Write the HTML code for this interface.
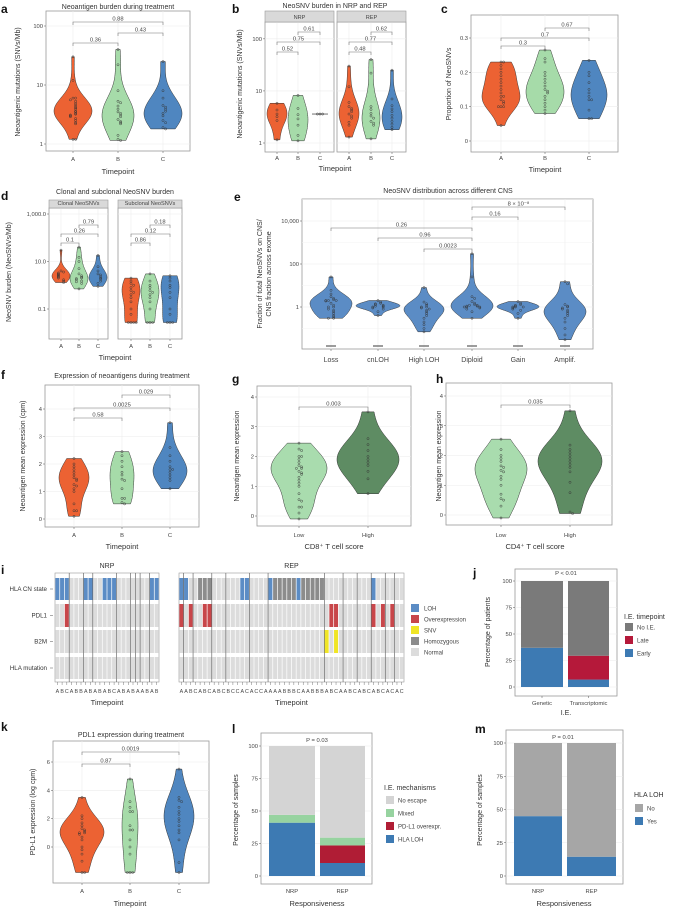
<!DOCTYPE html>
<html><head><meta charset="utf-8"><style>
html,body{margin:0;padding:0;background:#fff}
svg{display:block;font-family:"Liberation Sans",sans-serif}
</style></head><body>
<svg id="fig" width="673" height="908" viewBox="0 0 673 908" xmlns="http://www.w3.org/2000/svg"></svg>
<script>
// ---------------- DATA ----------------
const timepoints = ["A","B","C"];
const aA=[1.2,1.2,2.2,2.3,2.5,2.7,2.9,3,3.1,3.2,3.3,3.5,3.6,3.9,4.1,4.3,4.6,4.9,5.3,5.6,6,6,12,30];
const aB=[1.15,1.2,1.4,2.2,2.3,2.4,2.6,2.9,3.1,3.3,3.5,3.9,4.4,5,5.3,8,22,40];
const aC=[1.8,1.9,2.3,2.5,3,3.3,3.6,3.9,4.2,4.5,6,8,25];
const bNrpA=[1.15,2.7,3.2,3.6,4.3,5.8];
const bNrpB=[1.1,1.4,2.2,2.9,3.5,4.6,8.2];
const bNrpC=[3.6,3.6,3.6];
const bRepA=[1.3,2.2,2.5,3,3.3,3.6,4,4.3,4.6,5,6,12,30];
const bRepB=[1.2,2.2,2.4,2.6,3,3.3,3.7,4.4,5,22,40];
const bRepC=[1.8,2,2.3,2.6,3,3.4,4,4.5,5.2,7,25];
const cA=[0.045,0.1,0.1,0.1,0.11,0.115,0.12,0.13,0.13,0.14,0.15,0.16,0.17,0.18,0.19,0.2,0.21,0.22,0.23,0.23];
const cB=[0.08,0.09,0.1,0.11,0.12,0.13,0.14,0.145,0.15,0.16,0.17,0.18,0.19,0.2,0.23,0.24,0.265];
const cC=[0.065,0.065,0.09,0.12,0.12,0.13,0.14,0.15,0.17,0.19,0.2,0.235];
const dClA=[1.3,1.5,1.7,2,2.2,2.4,2.6,2.8,3,3.3,3.6,4,30];
const dClB=[0.7,1.2,1.4,1.5,1.7,1.9,2,2.2,2.5,3,5,10,15,40];
const dClC=[0.9,1.2,1.5,1.8,2,2.3,2.7,3,4,6,18];
const dSubA=[0.027,0.027,0.027,0.027,0.06,0.1,0.2,0.3,0.4,0.5,0.6,0.8,1,1.2,1.5,2];
const dSubB=[0.027,0.027,0.027,0.1,0.2,0.3,0.4,0.5,0.6,0.8,1,1.5,3];
const dSubC=[0.027,0.027,0.027,0.06,0.1,0.3,0.5,0.8,1,1.5,2,2.5];
const eCats=["Loss","cnLOH","High LOH","Diploid","Gain","Amplif."];
const eLoss=[0.3,0.3,0.35,0.4,0.5,0.6,0.7,0.8,1,1,1.2,1.5,1.9,2,2,2,2.2,2.5,3,4,6,25];
const eCnloh=[0.4,0.6,0.8,0.9,1,1,1.1,1.1,1.2,1.3,1.4,1.5,1.7,2];
const eHigh=[0.07,0.1,0.15,0.2,0.3,0.4,0.5,0.6,0.7,0.8,0.9,1,1,1.2,1.4,1.7,8];
const eDip=[0.3,0.6,0.8,0.9,1,1,1,1.1,1.1,1.2,1.2,1.3,1.5,1.8,2.5,3,25,300];
const eGain=[0.3,0.5,0.7,0.8,0.9,1,1,1,1.1,1.2,1.3,1.5,1.8];
const eAmp=[0.03,0.05,0.1,0.2,0.3,0.4,0.5,0.6,0.7,0.8,0.9,1,1.1,1.3,12,15];
const fA=[0.1,0.3,0.3,0.55,1,1.1,1.2,1.25,1.4,1.45,1.5,1.6,1.7,1.8,1.9,2,2.2];
const fB=[0.55,0.6,0.75,0.75,1.1,1.4,1.45,1.6,1.7,1.9,2.1,2.3,2.45];
const fC=[1.1,1.4,1.5,1.6,1.7,1.8,1.8,1.9,2.1,2.3,2.6,3.5];
const gLow=[-0.1,0.1,0.3,0.3,0.5,0.55,0.75,1,1.1,1.2,1.3,1.4,1.45,1.5,1.6,1.6,1.65,1.7,1.8,1.9,2,2,2.2,2.25,2.45];
const gHigh=[0.75,1.25,1.5,1.7,1.8,1.9,2,2.2,2.4,2.6,3.5];
const hLow=[-0.1,0.3,0.5,0.55,0.7,1,1.2,1.3,1.45,1.5,1.6,1.65,1.8,1.9,2,2.2,2.55];
const hHigh=[0.05,0.1,0.75,1.1,1.45,1.6,1.7,1.8,1.9,2,2.1,2.2,2.35,3.5];
const kA=[-1.8,-1.8,-1,-0.5,-0.2,0,0.5,0.7,0.9,1,1,1.1,1.2,1.3,1.5,1.7,2,2.2,3.5];
const kB=[-1.8,-1.8,-1.8,-0.5,0,0.5,1.2,1.2,1.5,2.5,2.5,2.8,3.2,4.8];
const kC=[-1.8,-1.1,0.5,1,1.2,1.5,1.8,2,2.3,2.5,2.8,3.2,3.3,3.5,5.5];
// heatmap i
const nrpLabels="ABCABBABABABCABABAABAB".split("");
const nrpLOH=[0,1,2,6,7,10,11,12,20,21];
const nrpPDL1=[2];
const nrpSep=[3,6,8,13,16,17,18,20];
const repLabels="AABCABCABCBCCACACCAAAABBBCAABBBABCAABCABCABCACAC".split("");
const repLOH=[0,1,13,14,19,25,41];
const repHomo=[4,5,6,20,21,22,23,24,26,27,28,29,30];
const repPDL1=[0,2,5,6,32,33,41,43,45];
const repSNV=[31,33];
const repSep=[1,3,7,10,15,19,31,35,38,41,44,46];
// stacked bars
const jCats=["Genetic","Transcriptomic"];
const jEarly=[37,7];
const jLate=[0,22.5];
const lCats=["NRP","REP"];
const lHlaLoh=[41,10];
const lPdl1=[0,13.5];
const lMixed=[6,6];
const mCats=["NRP","REP"];
const mYes=[45,14.5];

// ---------------- HELPERS ----------------
const NS="http://www.w3.org/2000/svg";
const svg=document.getElementById("fig");
function mk(tag,attrs,name,parent){
  const e=document.createElementNS(NS,tag);
  for(const k in attrs) e.setAttribute(k,attrs[k]);
  
  
  (parent||svg).appendChild(e);
  return e;
}
function txt(x,y,s,size,anchor,name,o){
  o=o||{};
  const a={x:x,y:y,"font-size":size,"text-anchor":anchor||"middle",fill:o.fill||"#333"};
  if(o.weight)a["font-weight"]=o.weight;
  if(o.rot!==undefined)a.transform="rotate("+o.rot+" "+x+" "+y+")";
  const t=mk("text",a,name);
  t.textContent=s;
  return t;
}
function lin(d0,d1,r0,r1){return v=>r0+(v-d0)/(d1-d0)*(r1-r0);}
function lg(d0,d1,r0,r1){const l0=Math.log10(d0),l1=Math.log10(d1);return v=>r0+(Math.log10(v)-l0)/(l1-l0)*(r1-r0);}
function frame(x0,y0,x1,y1,name){
  mk("rect",{x:x0,y:y0,width:x1-x0,height:y1-y0,fill:"#fff",stroke:"#9a9a9a","stroke-width":0.8},name);
}
function yAxis(x0,x1,ticks,labels,sc,name){
  ticks.forEach((v,i)=>{
    const y=sc(v);
    mk("line",{x1:x0,x2:x1,y1:y,y2:y,stroke:"#ececec","stroke-width":0.6},name+"-grid");
    mk("line",{x1:x0-2,x2:x0,y1:y,y2:y,stroke:"#555","stroke-width":0.5},name+"-tick");
    txt(x0-3,y+2,labels[i],5.8,"end",name+"-label",{fill:"#444"});
  });
}
function xAxis(xs,labels,y0,y1,ly,name,size){
  xs.forEach((x,i)=>{
    mk("line",{x1:x,x2:x,y1:y0,y2:y1,stroke:"#ececec","stroke-width":0.6},name+"-grid");
    mk("line",{x1:x,x2:x,y1:y1,y2:y1+2,stroke:"#555","stroke-width":0.5},name+"-tick");
    txt(x,ly,labels[i],size||5.8,"middle",name+"-label",{fill:"#444"});
  });
}
function violin(x,vals,sc,maxW,color,name){
  const ys=vals.map(sc);
  const lo=Math.min(...ys),hi=Math.max(...ys);
  const g=mk("g",{},name);
  if(hi-lo<0.5){
    mk("line",{x1:x-maxW,x2:x+maxW,y1:lo,y2:lo,stroke:"#333","stroke-width":0.7},name+"-line",g);
  } else {
    const n=ys.length,m=ys.reduce((a,b)=>a+b)/n;
    const sd=Math.sqrt(ys.reduce((a,b)=>a+(b-m)*(b-m),0)/(n-1));
    const bw=Math.max(2.5,1.06*sd*Math.pow(n,-0.2)*1.05);
    const N=70,dens=[];
    for(let i=0;i<=N;i++){const y=hi+(lo-hi)*i/N;let d=0;ys.forEach(v=>{d+=Math.exp(-0.5*((y-v)/bw)**2);});dens.push([y,d]);}
    const mx=Math.max(...dens.map(d=>d[1]));
    let p="";
    dens.forEach((d,i)=>{p+=(i?"L":"M")+(x+d[1]/mx*maxW).toFixed(2)+","+d[0].toFixed(2);});
    for(let i=N;i>=0;i--){p+="L"+(x-dens[i][1]/mx*maxW).toFixed(2)+","+dens[i][0].toFixed(2);}
    mk("path",{d:p+"Z",fill:color,stroke:"#333","stroke-width":0.5},name+"-body",g);
  }
  const placed=[];
  ys.slice().sort((a,b)=>a-b).forEach(y=>{
    const k=placed.filter(q=>Math.abs(q-y)<2.2).length;placed.push(y);
    const off=k===0?0:((k%2)?1:-1)*Math.ceil(k/2)*2.6;
    mk("circle",{cx:x+off,cy:y,r:1.1,fill:"none",stroke:"#333","stroke-width":0.45},name+"-point",g);
  });
}
function bracket(x1,x2,y,label,name){
  mk("path",{d:`M${x1},${y+3}V${y}H${x2}V${y+3}`,fill:"none",stroke:"#777","stroke-width":0.6},name);
  txt((x1+x2)/2,y-1.5,label,5.8,"middle",name+"-label",{fill:"#444"});
}
function strip(x0,x1,y0,y1,label,name){
  mk("rect",{x:x0,y:y0,width:x1-x0,height:y1-y0,fill:"#d9d9d9",stroke:"#9a9a9a","stroke-width":0.6},name);
  txt((x0+x1)/2,y1-3,label,5.6,"middle",name+"-label",{fill:"#444"});
}
function letter(x,y,s){txt(x,y,s,12,"start","panel-label-"+s,{weight:"bold",fill:"#111"});}
const OR="#ec6233",GR="#a6dba9",BL="#4f86c0";

// ---------------- PANEL A ----------------
letter(1,13,"a");
txt(118,9,"Neoantigen burden during treatment",7,"middle","panel-a-title");
frame(46,11,190,151,"panel-a-frame");
{const sc=lg(1,100,144,26);
yAxis(46,190,[1,10,100],["1","10","100"],sc,"a-y");
xAxis([73,118,163],timepoints,11,151,161,"a-x");
[aA,aB,aC].forEach((v,i)=>violin([73,118,163][i],v,sc,[19,16,19][i],[OR,GR,BL][i],"a-violin-"+timepoints[i]));
bracket(73,118,43,"0.36","a-bracket-ab");bracket(118,163,33,"0.43","a-bracket-bc");bracket(73,163,22,"0.88","a-bracket-ac");}
txt(118,174,"Timepoint",7.5,"middle","a-x-title");
txt(20,82,"Neoantigenic mutations (SNVs/Mb)",7,"middle","a-y-title",{rot:-90});

// ---------------- PANEL B ----------------
letter(232,13,"b");
txt(335,8,"NeoSNV burden in NRP and REP",7,"middle","panel-b-title");
{const sc=lg(1,300,143,14);
frame(265,22,334,152,"b-nrp-frame");frame(337,22,406,152,"b-rep-frame");
yAxis(265,334,[1,10,100],["1","10","100"],sc,"b-y");
[1,10,100].forEach(v=>mk("line",{x1:337,x2:406,y1:sc(v),y2:sc(v),stroke:"#ececec","stroke-width":0.6},"b-rep-grid-line"));
xAxis([277,298,320],timepoints,22,152,160,"b-nrp-x");
xAxis([349,371,392],timepoints,22,152,160,"b-rep-x");
strip(265,334,11,22,"NRP","b-strip-nrp");strip(337,406,11,22,"REP","b-strip-rep");
[bNrpA,bNrpB,bNrpC].forEach((v,i)=>violin([277,298,320][i],v,sc,[10,10,8][i],[OR,GR,BL][i],"b-nrp-violin-"+timepoints[i]));
[bRepA,bRepB,bRepC].forEach((v,i)=>violin([349,371,392][i],v,sc,[10,9,10][i],[OR,GR,BL][i],"b-rep-violin-"+timepoints[i]));
bracket(277,298,52,"0.52","b-nrp-ab");bracket(277,320,42,"0.75","b-nrp-ac");bracket(298,320,32,"0.61","b-nrp-bc");
bracket(349,371,52,"0.48","b-rep-ab");bracket(349,392,42,"0.77","b-rep-ac");bracket(371,392,32,"0.62","b-rep-bc");}
txt(335,171,"Timepoint",7.5,"middle","b-x-title");
txt(242,84,"Neoantigenic mutations (SNVs/Mb)",7,"middle","b-y-title",{rot:-90});

// ---------------- PANEL C ----------------
letter(441,13,"c");
frame(471,15,618,152,"panel-c-frame");
{const sc=lin(0,0.3,141,38);
yAxis(471,618,[0,0.1,0.2,0.3],["0","0.1","0.2","0.3"],sc,"c-y");
xAxis([501,545,589],timepoints,15,152,160,"c-x");
[cA,cB,cC].forEach((v,i)=>violin([501,545,589][i],v,sc,[19,19,18][i],[OR,GR,BL][i],"c-violin-"+timepoints[i]));
bracket(501,545,46,"0.3","c-bracket-ab");bracket(501,589,38,"0.7","c-bracket-ac");bracket(545,589,28,"0.67","c-bracket-bc");}
txt(545,172,"Timepoint",7.5,"middle","c-x-title");
txt(451,84,"Proportion of NeoSNVs",7,"middle","c-y-title",{rot:-90});

// ---------------- PANEL D ----------------
letter(1,200,"d");
txt(115,194,"Clonal and subclonal NeoSNV burden",7,"middle","panel-d-title");
{const sc=lg(0.1,1000,309,214);
frame(49,208,108,339,"d-clonal-frame");frame(118,208,182,339,"d-subclonal-frame");
yAxis(49,108,[0.1,10,1000],["0.1","10.0","1,000.0"],sc,"d-y");
[0.1,10,1000].forEach(v=>mk("line",{x1:118,x2:182,y1:sc(v),y2:sc(v),stroke:"#ececec","stroke-width":0.6},"d-sub-grid"));
xAxis([61,79,98],timepoints,208,339,348,"d-cl-x");
xAxis([131,150,170],timepoints,208,339,348,"d-sub-x");
strip(49,108,200,208,"Clonal NeoSNVs","d-strip-clonal");strip(118,182,200,208,"Subclonal NeoSNVs","d-strip-subclonal");
[dClA,dClB,dClC].forEach((v,i)=>violin([61,79,98][i],v,sc,9,[OR,GR,BL][i],"d-clonal-violin-"+timepoints[i]));
[dSubA,dSubB,dSubC].forEach((v,i)=>violin([131,150,170][i],v,sc,9,[OR,GR,BL][i],"d-sub-violin-"+timepoints[i]));
bracket(61,79,243,"0.1","d-cl-ab");bracket(61,98,234,"0.26","d-cl-ac");bracket(79,98,225,"0.79","d-cl-bc");
bracket(131,150,243,"0.86","d-sub-ab");bracket(131,170,234,"0.12","d-sub-ac");bracket(150,170,225,"0.18","d-sub-bc");}
txt(115,360,"Timepoint",7.5,"middle","d-x-title");
txt(11,272,"NeoSNV burden (NeoSNVs/Mb)",7,"middle","d-y-title",{rot:-90});

// ---------------- PANEL E ----------------
letter(234,201,"e");
txt(448,193,"NeoSNV distribution across different CNS",7,"middle","panel-e-title");
frame(302,199,593,349,"panel-e-frame");
{const sc=lg(1,10000,307,221);const ex=[331,378,424,472,518,565];
yAxis(302,593,[1,100,10000],["1","100","10,000"],sc,"e-y");
[0.1,10,1000,100000].forEach(v=>mk("line",{x1:302,x2:593,y1:sc(v),y2:sc(v),stroke:"#f3f3f3","stroke-width":0.5},"e-minor-grid"));
xAxis(ex,eCats,199,349,362,"e-x",7);
[eLoss,eCnloh,eHigh,eDip,eGain,eAmp].forEach((v,i)=>{
  violin(ex[i],v,sc,[21,22,20,21,21,21][i],"#5b8cc5","e-violin-"+i);
  [-4,-2,0,2,4].forEach(o=>mk("circle",{cx:ex[i]+o,cy:346,r:0.9,fill:"#555",stroke:"none"},"e-zero-point"));
});
bracket(472,565,207,"8 × 10⁻⁸","e-bracket-dip-amp");bracket(472,518,217,"0.16","e-bracket-dip-gain");
bracket(331,472,228,"0.26","e-bracket-loss-dip");bracket(378,472,238,"0.96","e-bracket-cnloh-dip");bracket(424,472,249,"0.0023","e-bracket-high-dip");}
txt(262,274,"Fraction of total NeoSNVs on CNS/",7,"middle","e-y-title-1",{rot:-90});
txt(271,274,"CNS fraction across exome",7,"middle","e-y-title-2",{rot:-90});

// ---------------- PANEL F ----------------
letter(1,379,"f");
txt(122,378,"Expression of neoantigens during treatment",7,"middle","panel-f-title");
frame(45,385,199,527,"panel-f-frame");
{const sc=lin(0,4,519,409);
yAxis(45,199,[0,1,2,3,4],["0","1","2","3","4"],sc,"f-y");
xAxis([74,122,170],timepoints,385,527,537,"f-x");
[fA,fB,fC].forEach((v,i)=>violin([74,122,170][i],v,sc,[15,12,17][i],[OR,GR,BL][i],"f-violin-"+timepoints[i]));
bracket(74,122,418,"0.58","f-bracket-ab");bracket(74,170,408,"0.0025","f-bracket-ac");bracket(122,170,395,"0.029","f-bracket-bc");}
txt(122,549,"Timepoint",7.5,"middle","f-x-title");
txt(25,456,"Neoantigen mean expression (cpm)",7,"middle","f-y-title",{rot:-90});

// ---------------- PANEL G ----------------
letter(232,383,"g");
frame(257,386,411,526,"panel-g-frame");
{const sc=lin(0,4,516,397);
yAxis(257,411,[0,1,2,3,4],["0","1","2","3","4"],sc,"g-y");
xAxis([299,368],["Low","High"],386,526,537,"g-x");
violin(299,gLow,sc,28,"#a9dcae","g-violin-low");violin(368,gHigh,sc,31,"#5e8c63","g-violin-high");
bracket(299,368,407,"0.003","g-bracket");}
txt(334,549,"CD8⁺ T cell score",7.5,"middle","g-x-title");
txt(239,456,"Neoantigen mean expression",7,"middle","g-y-title",{rot:-90});

// ---------------- PANEL H ----------------
letter(436,383,"h");
frame(446,383,612,525,"panel-h-frame");
{const sc=lin(0,4,515,396);
yAxis(446,612,[0,1,2,3,4],["0","1","2","3","4"],sc,"h-y");
xAxis([501,570],["Low","High"],383,525,537,"h-x");
violin(501,hLow,sc,26,"#a9dcae","h-violin-low");violin(570,hHigh,sc,32,"#5e8c63","h-violin-high");
bracket(501,570,405,"0.035","h-bracket");}
txt(535,549,"CD4⁺ T cell score",7.5,"middle","h-x-title");
txt(441,456,"Neoantigen mean expression",7,"middle","h-y-title",{rot:-90});

// ---------------- PANEL I ----------------
letter(1,574,"i");
const rowsY=[[578,600],[604,627],[630,653],[657,679]];
const rowNames=["HLA CN state","PDL1","B2M","HLA mutation"];
rowNames.forEach((r,i)=>{const y=(rowsY[i][0]+rowsY[i][1])/2;txt(47,y+2,r,6.2,"end","i-row-label");mk("line",{x1:50,x2:53,y1:y,y2:y,stroke:"#555","stroke-width":0.5},"i-row-tick");});
function heat(x0,x1,labels,loh,homo,pdl1,snv,sep,title,nm){
  const n=labels.length,w=(x1-x0)/n;
  mk("rect",{x:x0,y:573,width:x1-x0,height:109,fill:"#fff",stroke:"#9a9a9a","stroke-width":0.6},nm+"-frame");
  txt((x0+x1)/2,568,title,7,"middle",nm+"-title");
  labels.forEach((l,c)=>{
    const x=x0+c*w;
    rowsY.forEach((r,ri)=>{
      let col="#dcdcdc";
      if(ri===0){if(loh.includes(c))col="#5b8cc5";else if(homo.includes(c))col="#8c8c8c";}
      if(ri===1&&pdl1.includes(c))col="#c8464a";
      if(ri===2&&snv.includes(c))col="#f0e526";
      mk("rect",{x:x+0.35,y:r[0],width:w-0.7,height:r[1]-r[0],fill:col},nm+"-cell");
    });
    mk("line",{x1:x+w/2,x2:x+w/2,y1:682,y2:685,stroke:"#555","stroke-width":0.4},nm+"-tick");
    txt(x+w/2,693,l,5.3,"middle",nm+"-col-label",{fill:"#444"});
  });
  sep.forEach(c=>mk("line",{x1:x0+c*w,x2:x0+c*w,y1:573,y2:682,stroke:"#555","stroke-width":0.6},nm+"-patient-separator"));
  txt((x0+x1)/2,705,"Timepoint",7.5,"middle",nm+"-x-title");
}
heat(55,159,nrpLabels,nrpLOH,[],nrpPDL1,[],nrpSep,"NRP","i-nrp");
heat(179,404,repLabels,repLOH,repHomo,repPDL1,repSNV,repSep,"REP","i-rep");
[["LOH","#5b8cc5"],["Overexpression","#c8464a"],["SNV","#f0e526"],["Homozygous","#8c8c8c"],["Normal","#dcdcdc"]].forEach((e,i)=>{
  const y=604+i*11;
  mk("rect",{x:411,y:y,width:8,height:8,fill:e[1]},"i-legend-key");
  txt(424,y+6.5,e[0],6,"start","i-legend-label",{fill:"#444"});
});

// ---------------- STACKED BAR HELPERS ----------------
function stack(x0,x1,segs,sc,nm){
  segs.forEach(s=>mk("rect",{x:x0,y:sc(s[1]),width:x1-x0,height:sc(s[0])-sc(s[1]),fill:s[2]},nm));
}
function pctAxis(x0,x1,sc,nm){
  yAxis(x0,x1,[0,25,50,75,100],["0","25","50","75","100"],sc,nm);
}

// ---------------- PANEL J ----------------
letter(473,577,"j");
frame(515,569,617,696,"panel-j-frame");
{const sc=lin(0,100,687,581);pctAxis(515,617,sc,"j-y");
const xs=[[521,563],[568,609]];
jCats.forEach((c,i)=>{
  const e=jEarly[i],l=jLate[i];
  stack(xs[i][0],xs[i][1],[[0,e,"#3d7ab3"],[e,e+l,"#b5193a"],[e+l,100,"#7a7a7a"]],sc,"j-bar-"+c.toLowerCase());
  mk("line",{x1:(xs[i][0]+xs[i][1])/2,x2:(xs[i][0]+xs[i][1])/2,y1:696,y2:698,stroke:"#555","stroke-width":0.5},"j-x-tick");
  txt((xs[i][0]+xs[i][1])/2,705,c,5.8,"middle","j-x-label",{fill:"#444"});
});
txt(566,575,"P < 0.01",5.8,"middle","j-pvalue",{fill:"#444"});}
txt(566,715,"I.E.",7,"middle","j-x-title");
txt(490,632,"Percentage of patients",7,"middle","j-y-title",{rot:-90});
txt(624,619,"I.E. timepoint",7,"start","j-legend-title");
[["No I.E.","#7a7a7a"],["Late","#b5193a"],["Early","#3d7ab3"]].forEach((e,i)=>{
  const y=623+i*13;mk("rect",{x:625,y:y,width:8,height:8,fill:e[1]},"j-legend-key");
  txt(637,y+6.5,e[0],6,"start","j-legend-label",{fill:"#444"});
});

// ---------------- PANEL K ----------------
letter(1,731,"k");
txt(131,737,"PDL1 expression during treatment",7,"middle","panel-k-title");
frame(53,741,209,883,"panel-k-frame");
{const sc=lin(0,6,847,762);
yAxis(53,209,[0,2,4,6],["0","2","4","6"],sc,"k-y");
xAxis([82,130,179],timepoints,741,883,893,"k-x");
[kA,kB,kC].forEach((v,i)=>violin([82,130,179][i],v,sc,[22,8,15][i],[OR,GR,BL][i],"k-violin-"+timepoints[i]));
bracket(82,130,764,"0.87","k-bracket-ab");bracket(82,179,752,"0.0019","k-bracket-ac");}
txt(130,906,"Timepoint",7.5,"middle","k-x-title");
txt(35,812,"PD-L1 expression (log cpm)",7,"middle","k-y-title",{rot:-90});

// ---------------- PANEL L ----------------
letter(232,733,"l");
frame(261,733,372,884,"panel-l-frame");
{const sc=lin(0,100,876,746);pctAxis(261,372,sc,"l-y");
const xs=[[269,315],[320,365]];
lCats.forEach((c,i)=>{
  const a=lHlaLoh[i],b=a+lPdl1[i],m=b+lMixed[i];
  stack(xs[i][0],xs[i][1],[[0,a,"#3d7ab3"],[a,b,"#b01d35"],[b,m,"#97d3a0"],[m,100,"#d4d4d4"]],sc,"l-bar-"+c.toLowerCase());
  txt((xs[i][0]+xs[i][1])/2,893,c,5.8,"middle","l-x-label",{fill:"#444"});
});
txt(317,742,"P = 0.03",5.8,"middle","l-pvalue",{fill:"#444"});}
txt(317,906,"Responsiveness",7.5,"middle","l-x-title");
txt(238,810,"Percentage of samples",7,"middle","l-y-title",{rot:-90});
txt(384,790,"I.E. mechanisms",7,"start","l-legend-title");
[["No escape","#d4d4d4"],["Mixed","#97d3a0"],["PD-L1 overexpr.","#b01d35"],["HLA LOH","#3d7ab3"]].forEach((e,i)=>{
  const y=796+i*13;mk("rect",{x:386,y:y,width:8,height:8,fill:e[1]},"l-legend-key");
  txt(398,y+6.5,e[0],6,"start","l-legend-label",{fill:"#444"});
});

// ---------------- PANEL M ----------------
letter(475,733,"m");
frame(506,730,623,884,"panel-m-frame");
{const sc=lin(0,100,876,743);pctAxis(506,623,sc,"m-y");
const xs=[[514,562],[567,616]];
mCats.forEach((c,i)=>{
  stack(xs[i][0],xs[i][1],[[0,mYes[i],"#3d7ab3"],[mYes[i],100,"#a6a6a6"]],sc,"m-bar-"+c.toLowerCase());
  txt((xs[i][0]+xs[i][1])/2,893,c,5.8,"middle","m-x-label",{fill:"#444"});
});
txt(563,739,"P = 0.01",5.8,"middle","m-pvalue",{fill:"#444"});}
txt(564,906,"Responsiveness",7.5,"middle","m-x-title");
txt(482,810,"Percentage of samples",7,"middle","m-y-title",{rot:-90});
txt(634,797,"HLA LOH",7,"start","m-legend-title");
[["No","#a6a6a6"],["Yes","#3d7ab3"]].forEach((e,i)=>{
  const y=804+i*13;mk("rect",{x:635,y:y,width:8,height:8,fill:e[1]},"m-legend-key");
  txt(647,y+6.5,e[0],6,"start","m-legend-label",{fill:"#444"});
});
</script>
</body></html>
